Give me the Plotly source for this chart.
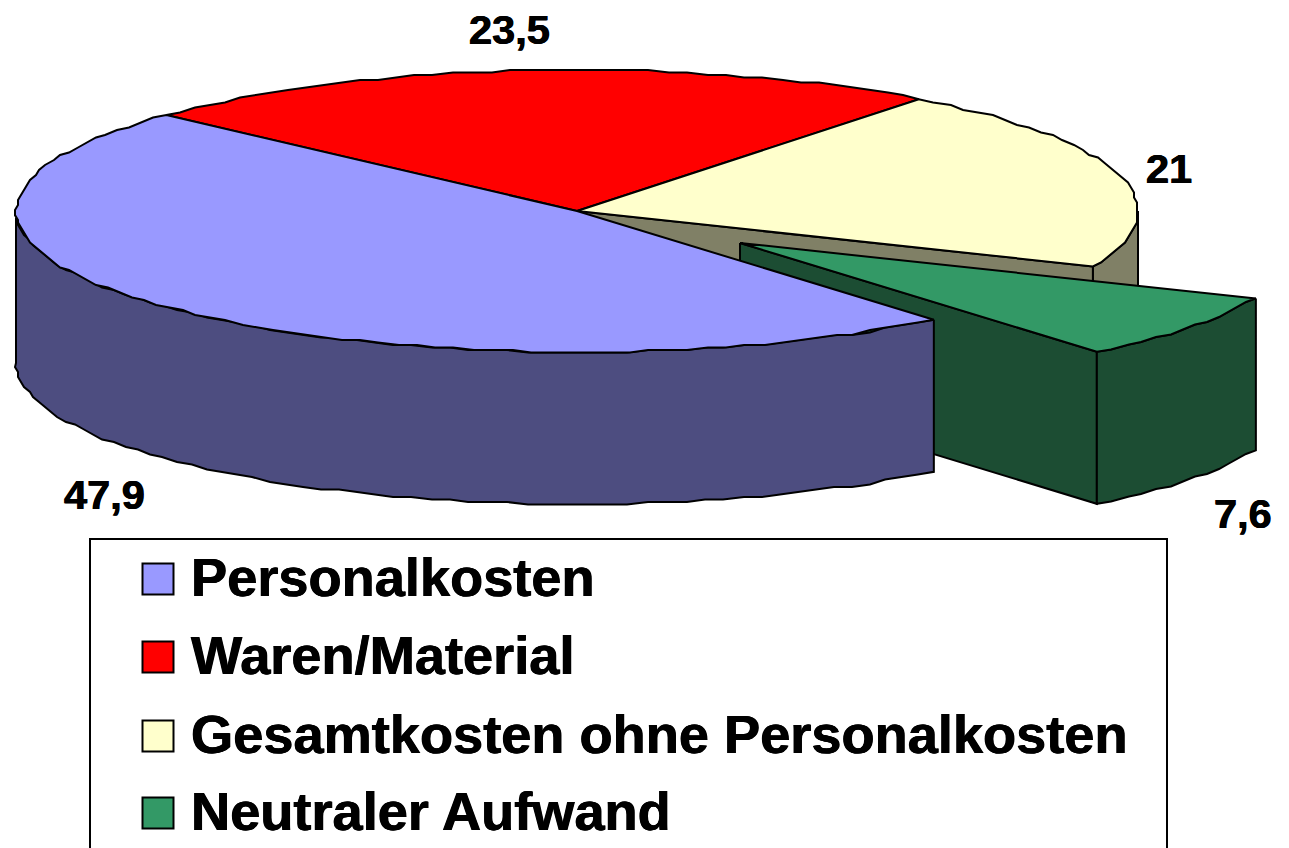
import numpy as np
import plotly.graph_objects as go

categories = ["Personalkosten", "Waren/Material", "Gesamtkosten ohne Personalkosten", "Neutraler Aufwand"]
values = [47.9, 23.5, 21.0, 7.6]
value_labels = ["47,9", "23,5", "21", "7,6"]
top_colors = ["#9999FF", "#FF0000", "#FFFFCC", "#339966"]
wall_colors = ["#4D4D80", "#800000", "#808066", "#1C4D33"]

W, H = 1289, 848
CX, CY, RX, RY = 577, 211, 561, 141
DEPTH = 152
START = 50.5
EXPLODE = (163, 32)
LABEL_POS = [(104, 494), (509, 29), (1169, 168), (1243, 513)]
LEGEND_Y = [579, 657, 736, 813]
HEAVY = "0.5px 0 0 black, -0.4px 0 0 black"


def rim(t0, t1, off=(0, 0), dz=0):
    n = max(2, int(abs(t1 - t0) / 2.0) + 1)
    ts = np.radians(np.linspace(t0, t1, n))
    x = CX + RX * np.cos(ts)
    y = CY + RY * np.sin(ts)
    # the source picture was enlarged from a coarse raster: its curves step
    x[1:-1] = np.round(x[1:-1] / 3) * 3
    y[1:-1] = np.round(y[1:-1] / 2.5) * 2.5
    return x + off[0], y + off[1] + dz


def poly(fig, x, y, color):
    fig.add_trace(go.Scatter(
        x=np.append(x, x[0]), y=np.append(y, y[0]), mode="lines", fill="toself",
        fillcolor=color, line=dict(color="black", width=2, shape="linear"),
        hoverinfo="skip", showlegend=False))


def top(fig, t0, t1, off, color):
    x, y = rim(t0, t1, off)
    poly(fig, np.r_[CX + off[0], x], np.r_[CY + off[1], y], color)


def wall(fig, t0, t1, off, color):
    x, y = rim(t0, t1, off)
    xb, yb = rim(t0, t1, off, DEPTH)
    poly(fig, np.r_[x, xb[::-1]], np.r_[y, yb[::-1]], color)


def cut(fig, t, off, color):
    x = CX + RX * np.cos(np.radians(t)) + off[0]
    y = CY + RY * np.sin(np.radians(t)) + off[1]
    a, b = CX + off[0], CY + off[1]
    poly(fig, np.array([a, x, x, a]), np.array([b, y, y + DEPTH, b + DEPTH]), color)


edges = START + np.cumsum([0] + values) * 3.6
spans = {c: (edges[i], edges[i + 1]) for i, c in enumerate(categories)}
P, M, G, N = categories
NONE = (0, 0)

fig = go.Figure()
# back to front
top(fig, *spans[M], NONE, top_colors[1])
wall(fig, 360, spans[G][1], NONE, wall_colors[2])
cut(fig, spans[G][1], NONE, wall_colors[2])
top(fig, *spans[G], NONE, top_colors[2])
cut(fig, spans[N][1], EXPLODE, wall_colors[3])
wall(fig, *spans[N], EXPLODE, wall_colors[3])
top(fig, *spans[N], EXPLODE, top_colors[3])
wall(fig, spans[P][0], 180, NONE, wall_colors[0])
top(fig, *spans[P], NONE, top_colors[0])

# legend
fig.add_shape(type="rect", x0=90, x1=1167, y0=539, y1=900, layer="below",
              line=dict(color="black", width=2), fillcolor="white")
fig.add_trace(go.Scatter(
    x=[158] * 4, y=LEGEND_Y, mode="markers", hoverinfo="skip", showlegend=False,
    marker=dict(symbol="square", size=31, color=top_colors,
                line=dict(color="black", width=2))))
fig.add_trace(go.Scatter(
    x=[191] * 4, y=[v + 3 for v in LEGEND_Y], mode="text", text=categories,
    textposition="middle right", hoverinfo="skip", showlegend=False,
    textfont=dict(family="Liberation Sans", size=54.2, color="black", weight="bold",
                  shadow=HEAVY)))

for lab, (x, y) in zip(value_labels, LABEL_POS):
    fig.add_annotation(x=x, y=y, text=f"<b>{lab}</b>", showarrow=False,
                       font=dict(family="Liberation Sans", size=41.5, color="black",
                                 shadow=HEAVY))

fig.update_xaxes(range=[0, W], visible=False, fixedrange=True)
fig.update_yaxes(range=[H, 0], visible=False, fixedrange=True)
fig.update_layout(width=W, height=H, margin=dict(l=0, r=0, t=0, b=0),
                  paper_bgcolor="white", plot_bgcolor="white", showlegend=False)
fig.write_html("out.html", config={"displayModeBar": False},
               post_script="document.body.style.margin='0';document.documentElement.style.overflow='hidden';")
